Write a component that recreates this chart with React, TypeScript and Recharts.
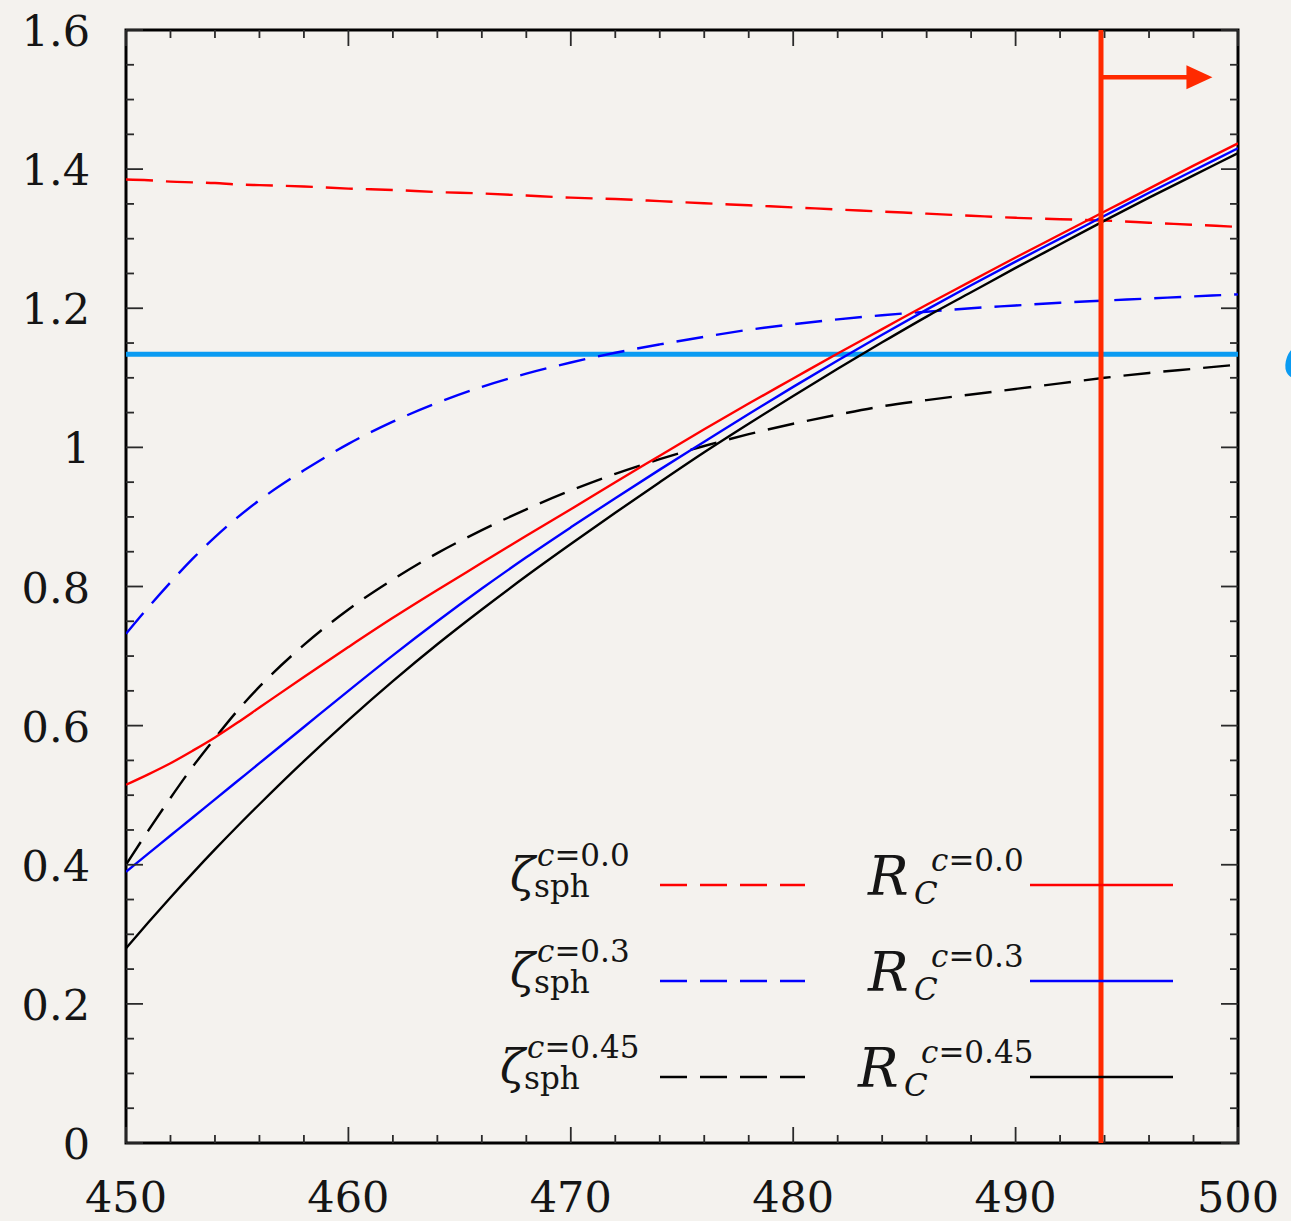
import React from 'react';
import { LineChart, Line, XAxis, YAxis, ReferenceLine, ReferenceArea, Legend } from 'recharts';

// ---------- data ----------
const xValues = [450, 451, 452, 453, 454, 455, 456, 458, 460, 462, 464, 466, 468, 470, 472, 474, 476, 478, 480, 482, 484, 486, 488, 490, 492, 494, 496, 498, 500];

const zetaSphC00 = [1.385, 1.384, 1.382, 1.381, 1.380, 1.378, 1.377, 1.375, 1.372, 1.370, 1.367, 1.365, 1.362, 1.359, 1.357, 1.354, 1.351, 1.348, 1.345, 1.342, 1.339, 1.336, 1.333, 1.330, 1.328, 1.326, 1.323, 1.320, 1.317];
const zetaSphC03 = [0.732, 0.770, 0.806, 0.840, 0.871, 0.899, 0.924, 0.967, 1.005, 1.037, 1.064, 1.087, 1.106, 1.122, 1.136, 1.148, 1.159, 1.169, 1.177, 1.184, 1.190, 1.195, 1.200, 1.204, 1.208, 1.211, 1.214, 1.217, 1.220];
const zetaSphC045 = [0.400, 0.449, 0.496, 0.541, 0.582, 0.621, 0.656, 0.716, 0.767, 0.810, 0.848, 0.881, 0.911, 0.938, 0.962, 0.983, 1.002, 1.019, 1.034, 1.047, 1.059, 1.068, 1.076, 1.084, 1.092, 1.100, 1.107, 1.113, 1.119];

const rcC00 = [0.515, 0.530, 0.546, 0.564, 0.583, 0.604, 0.626, 0.670, 0.713, 0.755, 0.795, 0.834, 0.873, 0.911, 0.950, 0.988, 1.026, 1.063, 1.099, 1.135, 1.170, 1.205, 1.239, 1.273, 1.306, 1.339, 1.372, 1.405, 1.437];
const rcC03 = [0.390, 0.416, 0.442, 0.468, 0.494, 0.520, 0.546, 0.598, 0.650, 0.701, 0.750, 0.797, 0.842, 0.885, 0.927, 0.968, 1.008, 1.048, 1.087, 1.125, 1.162, 1.198, 1.233, 1.267, 1.300, 1.333, 1.366, 1.398, 1.430];
const rcC045 = [0.280, 0.317, 0.353, 0.388, 0.422, 0.455, 0.487, 0.549, 0.608, 0.664, 0.717, 0.767, 0.815, 0.861, 0.906, 0.950, 0.993, 1.034, 1.074, 1.113, 1.151, 1.188, 1.223, 1.258, 1.292, 1.326, 1.359, 1.391, 1.423];

const cLabels = ['0.0', '0.3', '0.45'];

const xTicks = [450, 452, 454, 456, 458, 460, 462, 464, 466, 468, 470, 472, 474, 476, 478, 480, 482, 484, 486, 488, 490, 492, 494, 496, 498, 500];
const xMajorTicks = [450, 460, 470, 480, 490, 500];
const yTicks = [0, 0.05, 0.1, 0.15, 0.2, 0.25, 0.3, 0.35, 0.4, 0.45, 0.5, 0.55, 0.6, 0.65, 0.7, 0.75, 0.8, 0.85, 0.9, 0.95, 1, 1.05, 1.1, 1.15, 1.2, 1.25, 1.3, 1.35, 1.4, 1.45, 1.5, 1.55, 1.6];
const yMajorTicks = [0, 0.2, 0.4, 0.6, 0.8, 1, 1.2, 1.4, 1.6];

const cutX = 493.84;       // vertical red marker
const arrowEndX = 498.85;  // arrow tip
const arrowY = 1.532;
const deltaY = 1.134;      // blue horizontal level

const data = xValues.map((x, i) => ({
  x,
  z0: zetaSphC00[i],
  z3: zetaSphC03[i],
  z45: zetaSphC045[i],
  r0: rcC00[i],
  r3: rcC03[i],
  r45: rcC045[i],
}));

// ---------- layout / style ----------
const W = 1291;
const H = 1221;
const MARGIN = { top: 30, right: 53, bottom: 0, left: 26 };
const Y_AXIS_W = 100;
const X_AXIS_H = 78;
const PLOT_LEFT = MARGIN.left + Y_AXIS_W;
const PLOT_RIGHT = W - MARGIN.right;
const PLOT_TOP = MARGIN.top;
const PLOT_BOTTOM = H - MARGIN.bottom - X_AXIS_H;

const BG = '#f4f2ee';
const RED = '#ff0000';
const BLUE = '#0000ff';
const BLACK = '#000000';
const MARK_RED = '#ff2a00';
const SKY = '#0a9bf2';
const TICK = '#2a2a2a';
const TXT = '#151515';
const FONT = '"DejaVu Serif", serif';
const DASH = '27 13';

const XTick = (props: any) => {
  const { x, payload } = props;
  const v = payload.value;
  const major = xMajorTicks.includes(v);
  const len = major ? 16 : 8;
  return (
    <g>
      <line x1={x} x2={x} y1={PLOT_BOTTOM} y2={PLOT_BOTTOM - len} stroke={TICK} strokeWidth={1.8} />
      <line x1={x} x2={x} y1={PLOT_TOP} y2={PLOT_TOP + len} stroke={TICK} strokeWidth={1.8} />
      {major && (
        <text x={x} y={PLOT_BOTTOM + 69} textAnchor="middle" fontSize={43} fontFamily={FONT} fill={TXT}>
          {String(v)}
        </text>
      )}
    </g>
  );
};

const YTick = (props: any) => {
  const { y, payload } = props;
  const v = payload.value;
  const major = yMajorTicks.some((m) => Math.abs(m - v) < 1e-9);
  const len = major ? 17 : 8;
  return (
    <g>
      <line x1={PLOT_LEFT} x2={PLOT_LEFT + len} y1={y} y2={y} stroke={TICK} strokeWidth={1.8} />
      <line x1={PLOT_RIGHT} x2={PLOT_RIGHT - len} y1={y} y2={y} stroke={TICK} strokeWidth={1.8} />
      {major && (
        <text x={PLOT_LEFT - 36} y={y + 16} textAnchor="end" fontSize={43} fontFamily={FONT} fill={TXT}>
          {String(v)}
        </text>
      )}
    </g>
  );
};

const ArrowShape = (p: any) => {
  const { x1, y1, x2, y2 } = p;
  const head = 26;
  return (
    <g>
      <line x1={x1} y1={y1} x2={x2 - head + 3} y2={y2} stroke={MARK_RED} strokeWidth={4.5} />
      <polygon points={`${x2},${y2} ${x2 - head},${y2 - 12} ${x2 - head},${y2 + 12}`} fill={MARK_RED} />
    </g>
  );
};

const seriesColors = [RED, BLUE, BLACK];

const LegendContent = () => (
  <svg width={W} height={H} style={{ position: 'absolute', left: 0, top: 0 }}>
    {cLabels.map((c, i) => {
      const y0 = 885 + i * 96;
      const shift = (c.length - 3) * 10;
      const col = seriesColors[i];
      const zx = 510 - shift;
      const rx = 868 - shift;
      return (
        <g key={c} fontFamily={FONT} fill={TXT}>
          <text x={zx} y={y0 + 6} fontSize={46}>
            <tspan fontStyle="italic">ζ</tspan>
            <tspan x={zx + 27} y={y0 - 19} fontSize={31}>
              <tspan fontStyle="italic">c</tspan>={c}
            </tspan>
            <tspan x={zx + 24} y={y0 + 12} fontSize={31}>sph</tspan>
          </text>
          <line x1={660} x2={805} y1={y0} y2={y0} stroke={col} strokeWidth={2.4} strokeDasharray={DASH} />
          <text x={rx} y={y0 + 10} fontSize={54}>
            <tspan fontStyle="italic">R</tspan>
            <tspan x={rx + 63} y={y0 - 14} fontSize={31}>
              <tspan fontStyle="italic">c</tspan>={c}
            </tspan>
            <tspan x={rx + 46} y={y0 + 19} fontSize={31} fontStyle="italic">C</tspan>
          </text>
          <line x1={1030} x2={1173} y1={y0} y2={y0} stroke={col} strokeWidth={2.4} />
        </g>
      );
    })}
  </svg>
);

export default function App() {
  return (
    <div style={{ position: 'absolute', left: 0, top: 0, width: W, height: H, background: BG, overflow: 'hidden' }}>
      <LineChart width={W} height={H} data={data} margin={MARGIN}>
        <XAxis
          dataKey="x"
          type="number"
          domain={[450, 500]}
          ticks={xTicks}
          interval={0}
          allowDataOverflow
          height={X_AXIS_H}
          axisLine={false}
          tickLine={false}
          tickSize={0}
          tickMargin={0}
          tick={XTick}
        />
        <YAxis
          type="number"
          domain={[0, 1.6]}
          ticks={yTicks}
          interval={0}
          allowDataOverflow
          width={Y_AXIS_W}
          axisLine={false}
          tickLine={false}
          tickSize={0}
          tickMargin={0}
          tick={YTick}
        />
        <ReferenceArea x1={450} x2={500} y1={0} y2={1.6} fill="none" fillOpacity={0} stroke={BLACK} strokeWidth={3} />
        <ReferenceLine
          y={deltaY}
          stroke={SKY}
          strokeWidth={5}
          label={{ value: 'δ', position: 'right', offset: 46, fill: SKY, fontSize: 66, fontStyle: 'italic', fontFamily: FONT }}
        />
        <Line dataKey="z0" type="monotone" stroke={RED} strokeWidth={2.4} strokeDasharray={DASH} dot={false} isAnimationActive={false} />
        <Line dataKey="z3" type="monotone" stroke={BLUE} strokeWidth={2.4} strokeDasharray={DASH} dot={false} isAnimationActive={false} />
        <Line dataKey="z45" type="monotone" stroke={BLACK} strokeWidth={2.4} strokeDasharray={DASH} dot={false} isAnimationActive={false} />
        <Line dataKey="r0" type="monotone" stroke={RED} strokeWidth={2.4} dot={false} isAnimationActive={false} />
        <Line dataKey="r3" type="monotone" stroke={BLUE} strokeWidth={2.4} dot={false} isAnimationActive={false} />
        <Line dataKey="r45" type="monotone" stroke={BLACK} strokeWidth={2.4} dot={false} isAnimationActive={false} />
        <ReferenceLine x={cutX} stroke={MARK_RED} strokeWidth={5} />
        <ReferenceLine
          segment={[{ x: cutX, y: arrowY }, { x: arrowEndX, y: arrowY }]}
          shape={ArrowShape}
        />
        <Legend
          layout="vertical"
          align="center"
          verticalAlign="middle"
          content={LegendContent}
          wrapperStyle={{ left: 0, top: 0, width: W, height: H, pointerEvents: 'none' }}
        />
      </LineChart>
    </div>
  );
}
